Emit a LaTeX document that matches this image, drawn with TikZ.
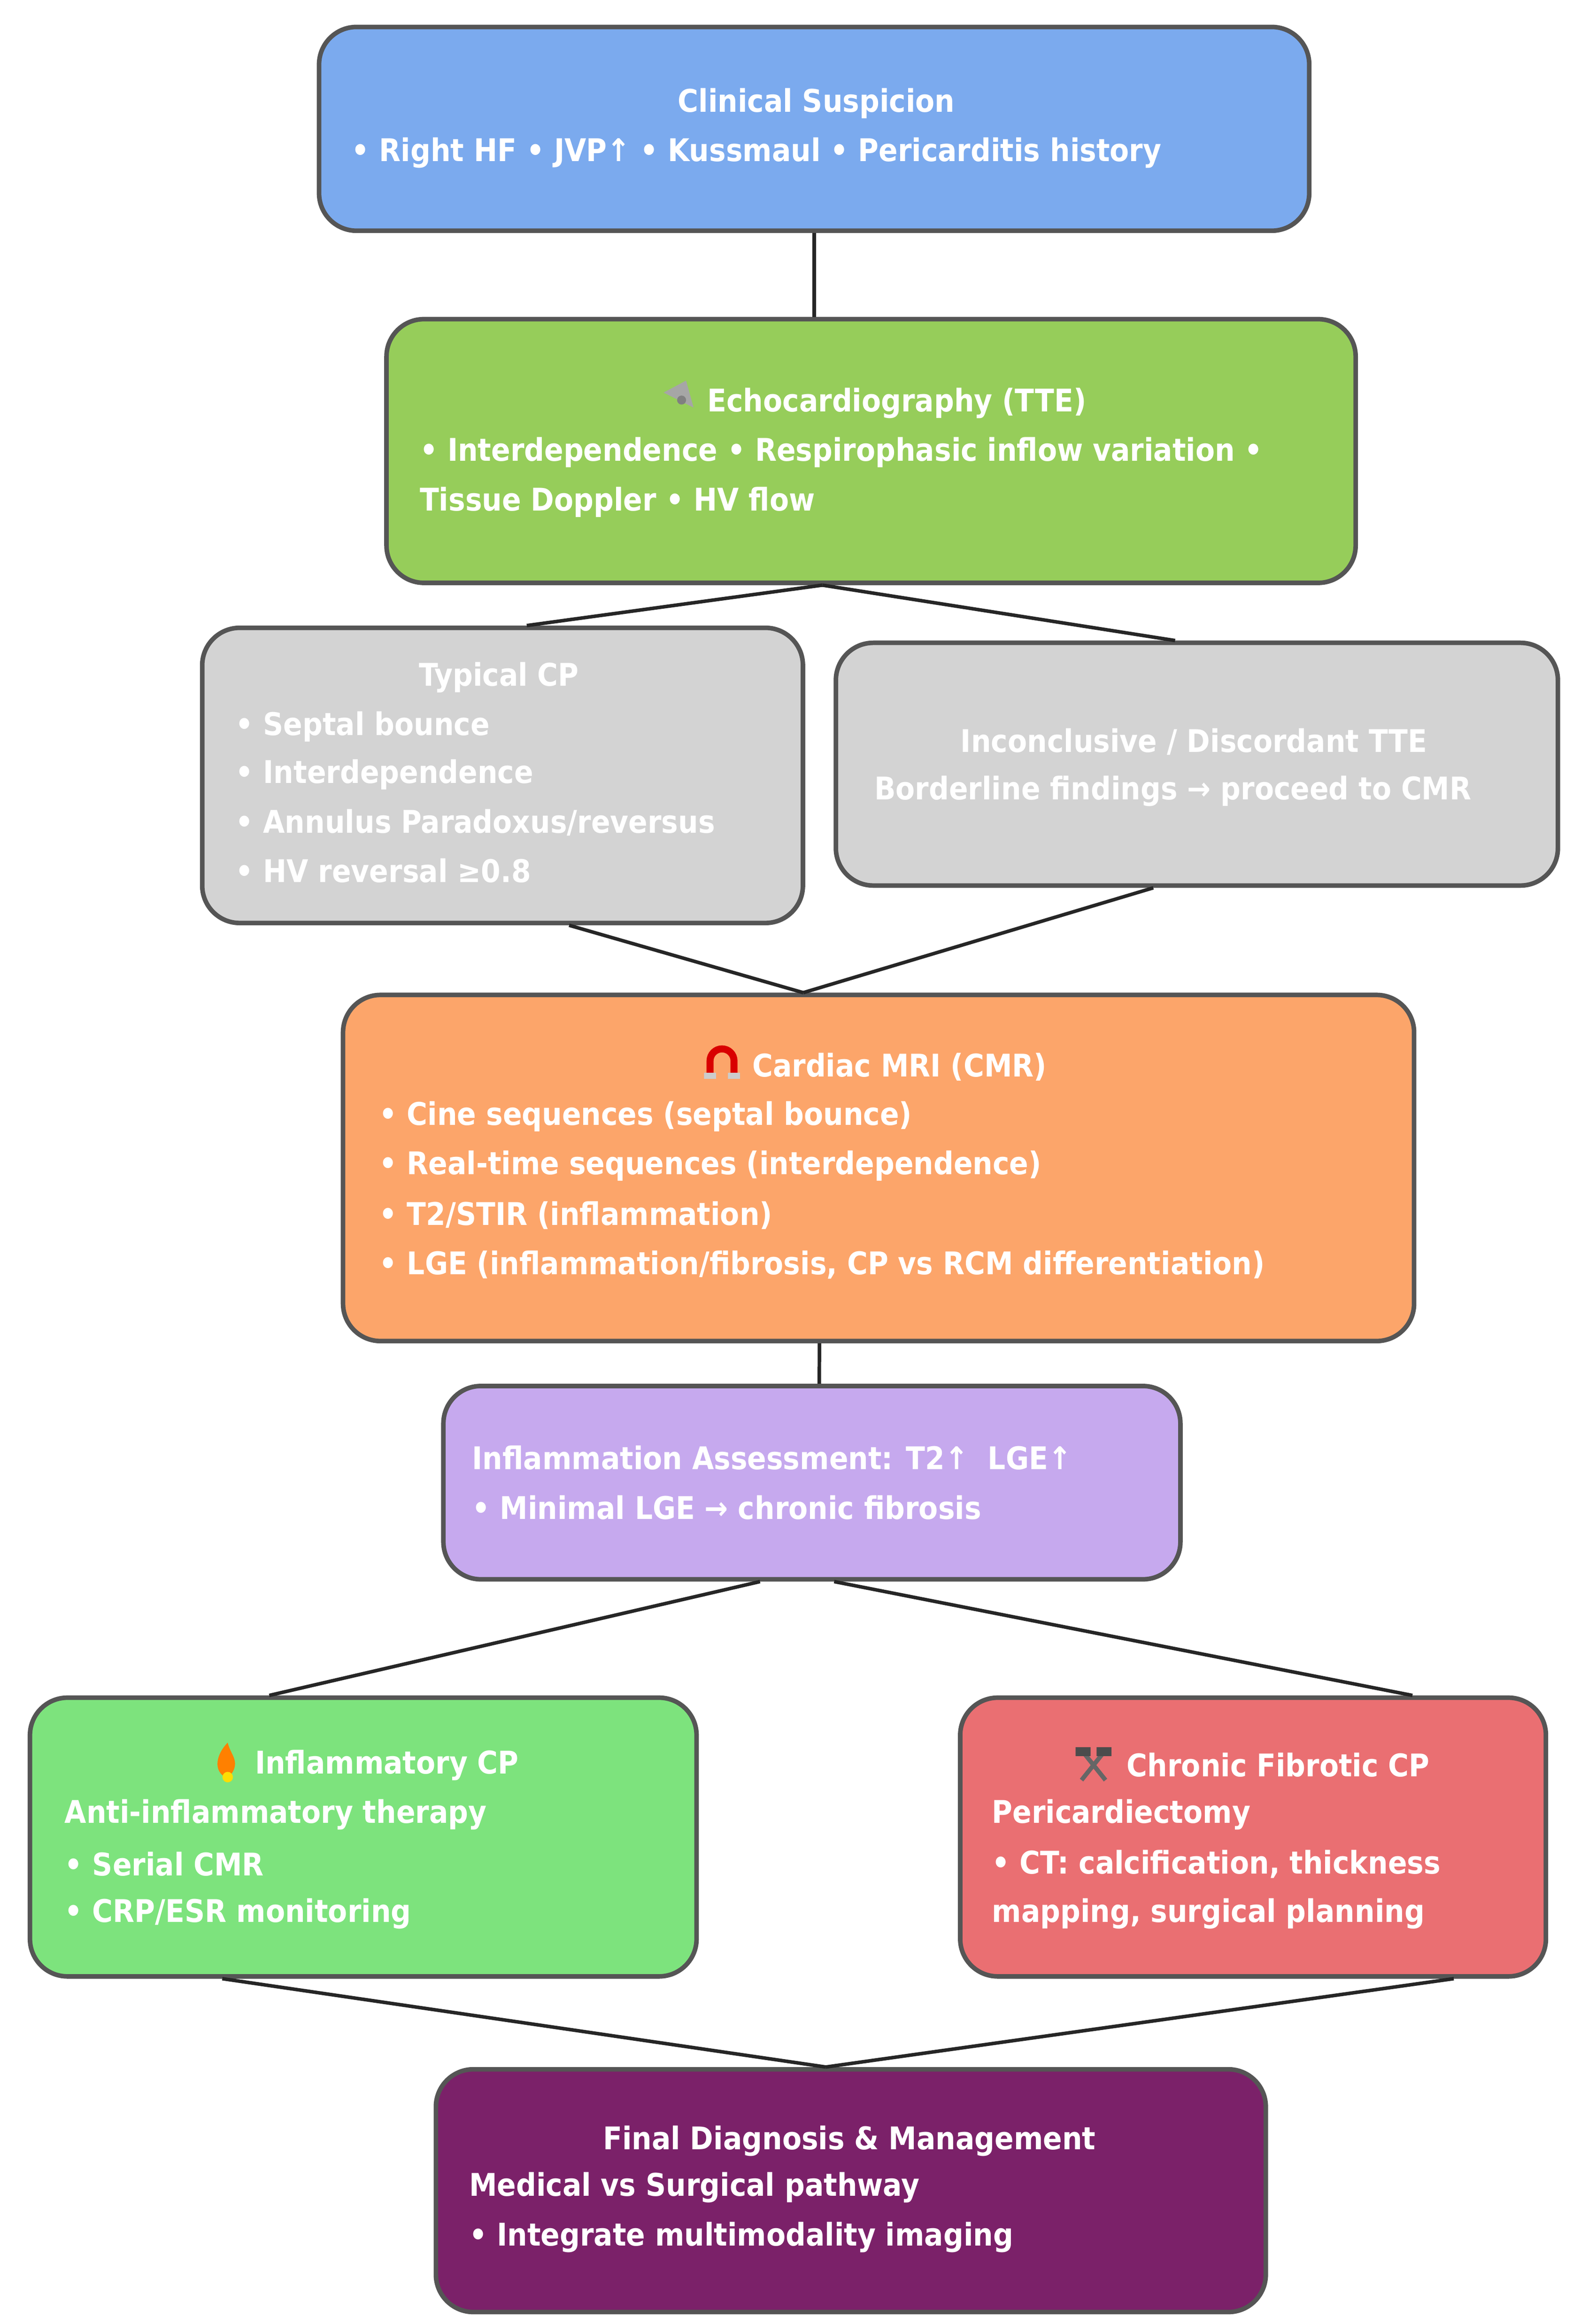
\documentclass[tikz,border=0pt]{standalone}
\usepackage{fontspec}
\setmainfont{DejaVu Sans Condensed}[BoldFont={DejaVu Sans Condensed Bold}]
\usetikzlibrary{fit,calc}
\definecolor{cblue}{HTML}{7BAAEE}
\definecolor{cgreen}{HTML}{96CD5A}
\definecolor{cgray}{HTML}{D3D3D3}
\definecolor{corange}{HTML}{FCA56A}
\definecolor{clav}{HTML}{C6A9EE}
\definecolor{clgreen}{HTML}{7DE37D}
\definecolor{cred}{HTML}{EA6F72}
\definecolor{cplum}{HTML}{7B2169}
\definecolor{cborder}{HTML}{555555}
\begin{document}
\begin{tikzpicture}[x=0.03cm,y=-0.03cm,
  box/.style={draw=cborder,line width=2.6pt,rounded corners=0.75cm,inner sep=0},
  t/.style={text=white,font=\bfseries\fontsize{17.8}{20}\selectfont,inner sep=0},
  tl/.style={t,anchor=west},
  conn/.style={draw=black!85,line width=2pt}]
\useasboundingbox (0,0) rectangle (1050,1551);
\node[box,fill=cblue,fit={(213,18)(874,154)}] (b1) {};
\node[box,fill=cgreen,fit={(258,213)(905,389)}] (b2) {};
\node[box,fill=cgray,fit={(135,419)(536,616)}] (b3) {};
\node[box,fill=cgray,fit={(558,429)(1040,591)}] (b4) {};
\node[box,fill=corange,fit={(229,664)(944,895)}] (b5) {};
\node[box,fill=clav,fit={(296,925)(788,1054)}] (b6) {};
\node[box,fill=clgreen,fit={(20,1133)(465,1319)}] (b7) {};
\node[box,fill=cred,fit={(641,1133)(1032,1319)}] (b8) {};
\node[box,fill=cplum,fit={(291,1381)(845,1543)}] (b9) {};
% connectors
\draw[conn] (b1.south) -- (b1.south |- b2.north);
\draw[conn] ($(b2.south west)!0.45!(b2.south east)$) coordinate (e) -- ($(b3.north west)!0.54!(b3.north east)$);
\draw[conn] (e) -- ($(b4.north west)!0.47!(b4.north east)$);
\draw[conn] ($(b3.south west)!0.61!(b3.south east)$) -- ($(b5.north west)!0.43!(b5.north east)$) coordinate (m);
\draw[conn] ($(b4.south west)!0.44!(b4.south east)$) -- (m);
\draw[conn] ($(b5.south west)!0.445!(b5.south east)$) -- ($(b6.north west)!0.51!(b6.north east)$);
\draw[conn] ($(b6.south west)!0.43!(b6.south east)$) -- ($(b7.north west)!0.36!(b7.north east)$);
\draw[conn] ($(b6.south west)!0.53!(b6.south east)$) -- ($(b8.north west)!0.77!(b8.north east)$);
\draw[conn] ($(b7.south west)!0.29!(b7.south east)$) -- ($(b9.north west)!0.47!(b9.north east)$) coordinate (f);
\draw[conn] ($(b8.south west)!0.84!(b8.south east)$) -- (f);
% texts
\node[t] (l11) at (545,69) {Clinical Suspicion};
\node[t] (l12) at (505,102) {• Right HF • JVP↑ • Kussmaul • Pericarditis history};
\node[tl] (l21) at (472,269) {Echocardiography (TTE)};
\node[tl] (l22) at (280,302) {• Interdependence • Respirophasic inflow variation •};
\node[tl] (l23) at (280,335) {Tissue Doppler • HV flow};
\node[t] (l31) at (333,452) {Typical CP};
\node[tl] at (157,485) {• Septal bounce};
\node[tl] at (157,517) {• Interdependence};
\node[tl] at (157,549) {• Annulus Paradoxus/reversus};
\node[tl] at (157,581) {• HV reversal ≥0.8};
\node[t] at (797,495) {Inconclusive / Discordant TTE};
\node[t] at (783,528) {Borderline findings → proceed to CMR};
\node[tl] at (502,712) {Cardiac MRI (CMR)};
\node[tl] at (253,745) {• Cine sequences (septal bounce)};
\node[tl] at (253,778) {• Real-time sequences (interdependence)};
\node[tl] at (253,811) {• T2/STIR (inflammation)};
\node[tl] at (253,844) {• LGE (inflammation/fibrosis, CP vs RCM differentiation)};
\node[tl] at (315,973) {Inflammation Assessment: T2↑ \ LGE↑};
\node[tl] at (315,1006) {• Minimal LGE → chronic fibrosis};
\node[tl] at (170,1178) {Inflammatory CP};
\node[tl] at (43,1211) {Anti-inflammatory therapy};
\node[tl] at (43,1244) {• Serial CMR};
\node[tl] at (43,1277) {• CRP/ESR monitoring};
\node[tl] at (752,1178) {Chronic Fibrotic CP};
\node[tl] at (662,1211) {Pericardiectomy};
\node[tl] at (662,1244) {• CT: calcification, thickness};
\node[tl] at (662,1277) {mapping, surgical planning};
\node[t] at (567,1429) {Final Diagnosis \& Management};
\node[tl] at (313,1460) {Medical vs Surgical pathway};
\node[tl] at (313,1493) {• Integrate multimodality imaging};
% icons
\fill[gray!70] (443,262) -- (458,254) -- (463,272) -- cycle;
\fill[gray] (455,267) circle (3);
\draw[red!85!black,line width=4pt] (474,718) -- (474,708) arc (180:360:8) -- (490,718);
\fill[gray!40] (470,716) rectangle (478,720) (486,716) rectangle (494,720);
\fill[orange] (152,1187) .. controls (141,1182) and (145,1170) .. (152,1163) .. controls (154,1172) and (162,1176) .. (152,1187);
\fill[yellow!80!orange] (152,1186) circle (3.5);
\draw[gray!80!black,line width=2.5pt] (722,1188) -- (738,1168) (738,1188) -- (722,1168);
\fill[gray!60!black] (718,1166) rectangle (728,1172) (732,1166) rectangle (742,1172);
\end{tikzpicture}
\end{document}
